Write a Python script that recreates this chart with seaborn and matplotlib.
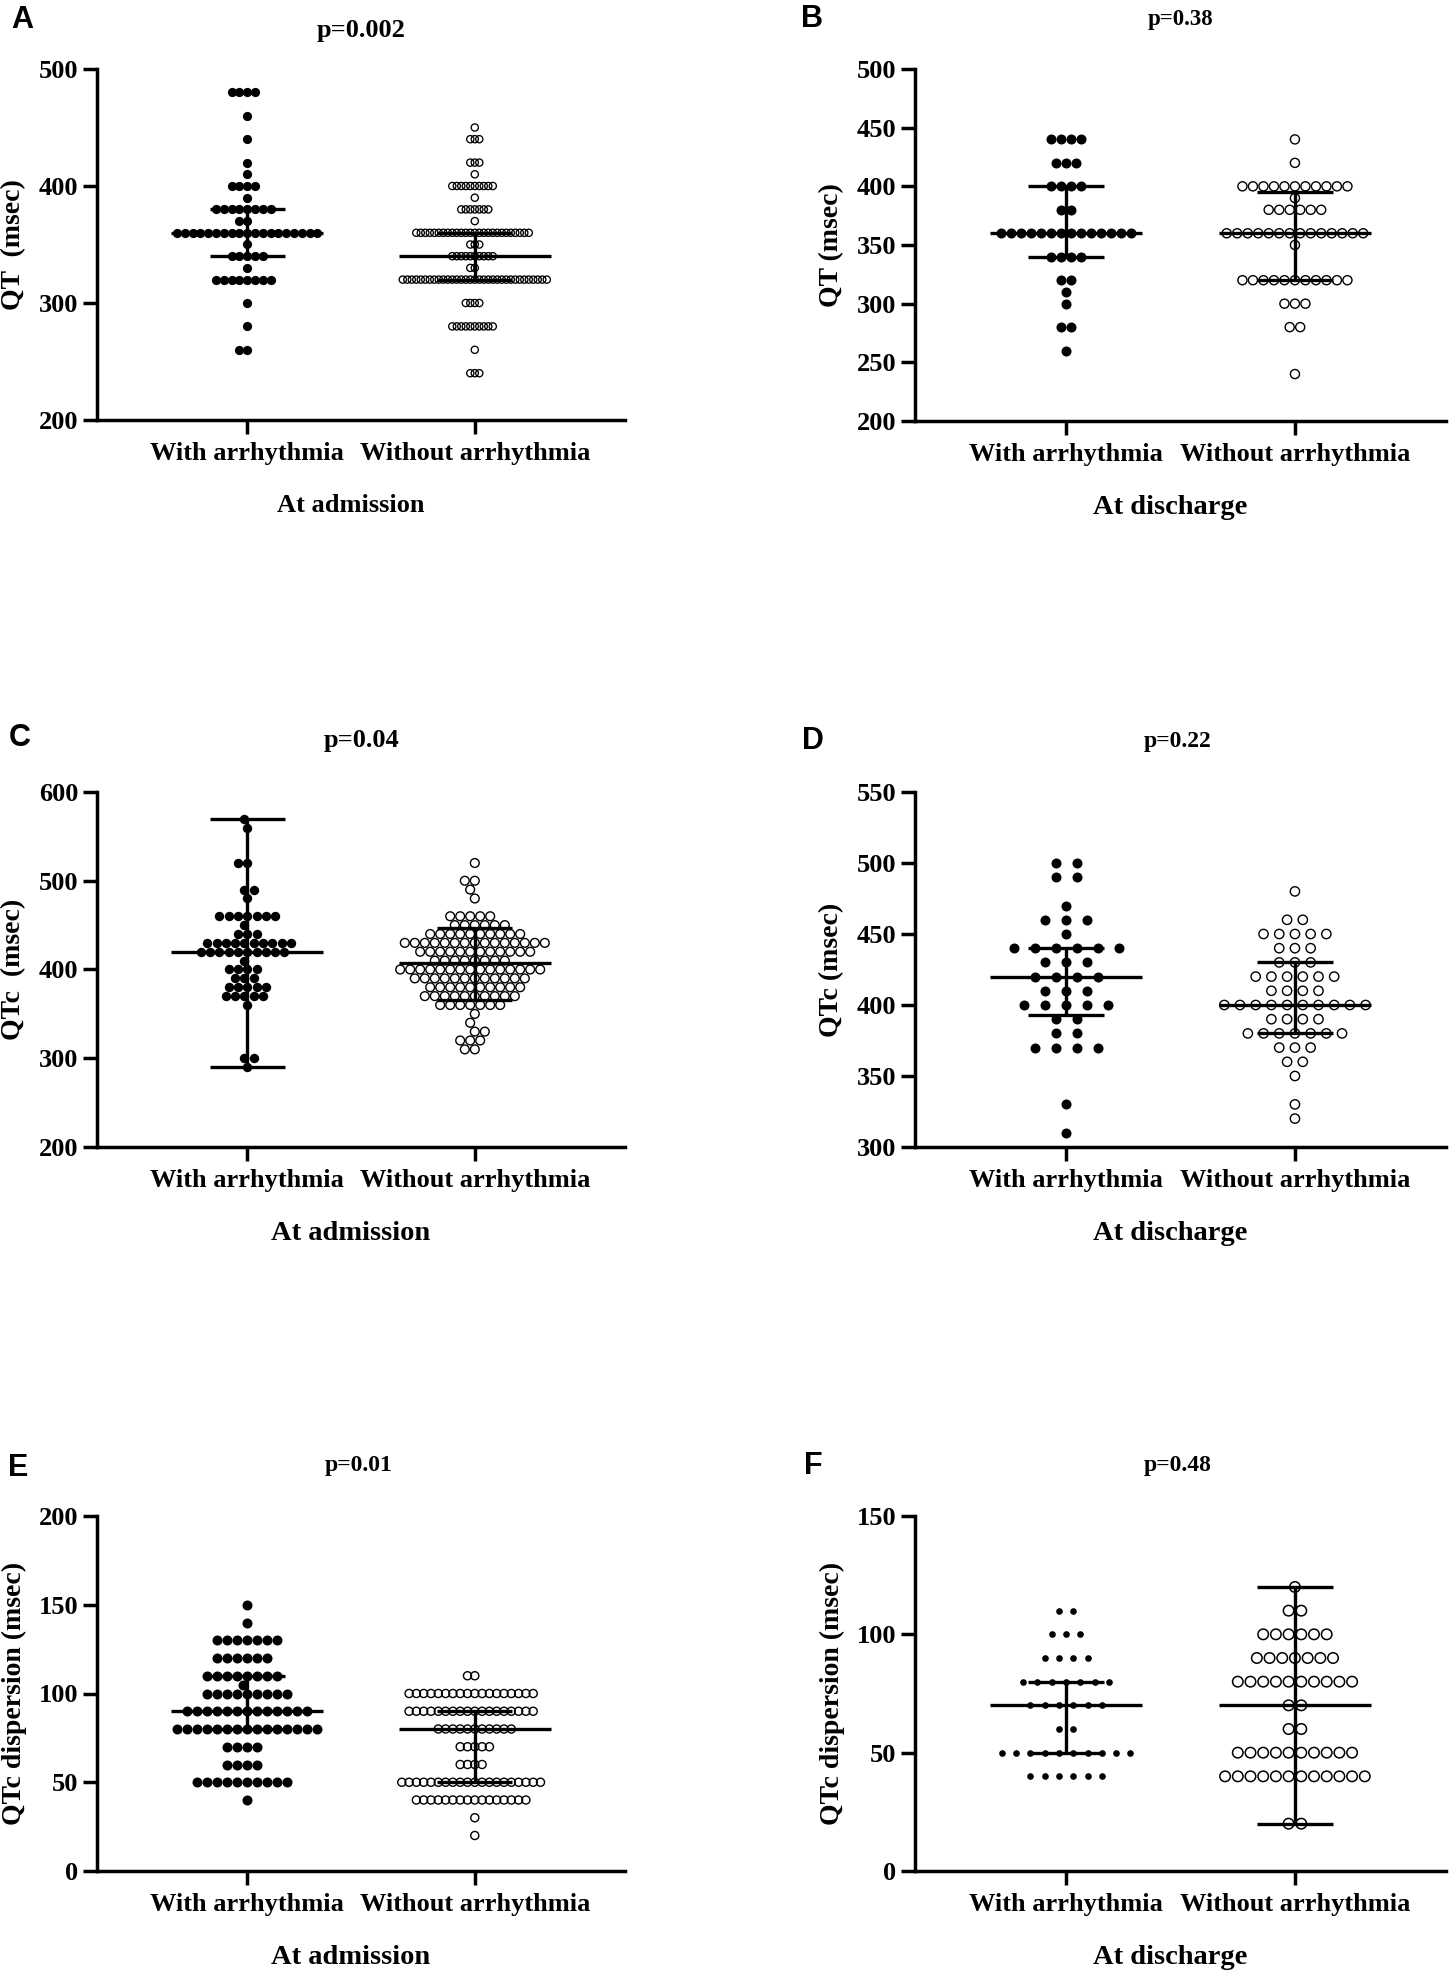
import numpy as np
import pandas as pd
import matplotlib
matplotlib.use("Agg")
import matplotlib.pyplot as plt
import seaborn as sns

# ---------------- data ----------------
categories = ["With arrhythmia", "Without arrhythmia"]

# A: QT at admission
A_with_vals = [480, 460, 440, 420, 410, 400, 390, 380, 370, 360, 350, 340, 330, 320, 300, 280, 260]
A_with_counts = [4, 1, 1, 1, 1, 4, 1, 8, 2, 19, 1, 5, 1, 8, 1, 1, 2]
A_without_vals = [450, 440, 420, 410, 400, 390, 380, 370, 360, 350, 340, 330, 320, 300, 280, 260, 240]
A_without_counts = [1, 3, 3, 1, 10, 1, 7, 1, 26, 3, 10, 2, 33, 4, 10, 1, 3]
A_summary = [[360, 340, 380], [340, 320, 360]]          # centre, low, high

# B: QT at discharge
B_with_vals = [440, 420, 400, 380, 360, 340, 320, 310, 300, 280, 260]
B_with_counts = [4, 3, 4, 2, 14, 4, 2, 1, 1, 2, 1]
B_without_vals = [440, 420, 400, 390, 380, 360, 350, 320, 300, 280, 240]
B_without_counts = [1, 1, 11, 1, 6, 14, 1, 11, 3, 2, 1]
B_summary = [[360, 340, 400], [360, 320, 395]]

# C: QTc at admission
C_with_vals = [570, 560, 520, 490, 480, 460, 450, 440, 430, 420, 410, 400, 390, 380, 370, 360, 300, 290]
C_with_counts = [1, 1, 2, 2, 1, 7, 1, 3, 10, 10, 1, 4, 3, 5, 5, 1, 2, 1]
C_without_vals = [520, 500, 490, 480, 460, 450, 440, 430, 420, 410, 400, 390, 380, 370, 360, 350, 340, 330, 320, 310]
C_without_counts = [1, 2, 1, 1, 5, 6, 10, 15, 12, 8, 15, 12, 10, 10, 7, 1, 1, 2, 3, 2]
C_summary = [[420, 290, 570], [407, 366, 447]]

# D: QTc at discharge
D_with_vals = [500, 490, 470, 460, 450, 440, 430, 420, 410, 400, 390, 380, 370, 330, 310]
D_with_counts = [2, 2, 1, 3, 1, 6, 3, 4, 3, 5, 2, 2, 4, 1, 1]
D_without_vals = [480, 460, 450, 440, 430, 420, 410, 400, 390, 380, 370, 360, 350, 330, 320]
D_without_counts = [1, 2, 5, 3, 3, 6, 4, 10, 4, 7, 3, 2, 1, 1, 1]
D_summary = [[420, 393, 440], [400, 380, 430]]

# E: QTc dispersion at admission
E_with_vals = [150, 140, 130, 120, 110, 105, 100, 90, 80, 70, 60, 50, 40]
E_with_counts = [1, 1, 7, 6, 8, 1, 9, 13, 15, 4, 4, 10, 1]
E_without_vals = [110, 100, 90, 80, 70, 60, 50, 40, 30, 20]
E_without_counts = [2, 18, 18, 11, 5, 4, 20, 16, 1, 1]
E_summary = [[90, 80, 110], [80, 50, 90]]

# F: QTc dispersion at discharge
F_with_vals = [110, 100, 90, 80, 70, 60, 50, 40]
F_with_counts = [2, 3, 4, 7, 6, 2, 10, 6]
F_without_vals = [120, 110, 100, 90, 80, 70, 60, 50, 40, 20]
F_without_counts = [1, 2, 6, 7, 10, 2, 2, 10, 12, 2]
F_summary = [[70, 50, 80], [70, 20, 120]]

p_values = ["p=0.002", "p=0.38", "p=0.04", "p=0.22", "p=0.01", "p=0.48"]
panel_letters = ["A", "B", "C", "D", "E", "F"]
y_labels = ["QT  (msec)", "QT (msec)", "QTc  (msec)", "QTc (msec)",
            "QTc dispersion (msec)", "QTc dispersion (msec)"]
x_labels = ["At admission", "At discharge", "At admission", "At discharge",
            "At admission", "At discharge"]
y_ranges = [(200, 500, 100), (200, 500, 50), (200, 600, 100),
            (300, 550, 50), (0, 200, 50), (0, 150, 50)]

groups = {
    "A": [(A_with_vals, A_with_counts), (A_without_vals, A_without_counts)],
    "B": [(B_with_vals, B_with_counts), (B_without_vals, B_without_counts)],
    "C": [(C_with_vals, C_with_counts), (C_without_vals, C_without_counts)],
    "D": [(D_with_vals, D_with_counts), (D_without_vals, D_without_counts)],
    "E": [(E_with_vals, E_with_counts), (E_without_vals, E_without_counts)],
    "F": [(F_with_vals, F_with_counts), (F_without_vals, F_without_counts)],
}
summaries = {"A": A_summary, "B": B_summary, "C": C_summary,
             "D": D_summary, "E": E_summary, "F": F_summary}

# ---------------- styling / layout ----------------
W, H, DPI = 1450, 1977, 100
sns.set_theme(style="ticks")
plt.rcParams["font.family"] = ["Liberation Serif", "DejaVu Serif"]
plt.rcParams["font.weight"] = "bold"
plt.rcParams["axes.labelweight"] = "bold"

# marker style per panel: (mode, [(filled, s, lw, spacing_px) for each group])
marker_style = {
    "A": ("swarm", [(True, 44, 0, 7.8), (False, 27, 0.95, 4.5)]),
    "B": ("grid", [(True, 52, 0, 10.0), (False, 43, 1.0, 10.5)]),
    "C": ("swarm", [(True, 46, 0, 9.3), (False, 40, 1.0, 10.0)]),
    "D": ("grid", [(True, 52, 0, 21.0), (False, 45, 1.0, 15.7)]),
    "E": ("swarm", [(True, 52, 0, 10.0), (False, 34, 1.0, 7.3)]),
    "F": ("grid", [(True, 23, 0, 14.3), (False, 57, 1.1, 12.7)]),
}

# axes rectangles in pixels: left, top, width, height
axes_px = {
    "A": (97, 69, 528, 351), "B": (915, 69, 531, 352),
    "C": (97, 792, 528, 355), "D": (915, 792, 531, 355),
    "E": (97, 1516, 528, 355), "F": (915, 1516, 531, 355),
}
title_px = {"A": (361, 30, 19), "B": (1180, 20, 16.5), "C": (362, 740, 19),
            "D": (1178, 742, 17), "E": (359, 1466, 17), "F": (1178, 1466, 17)}
letter_px = {"A": (22, 20), "B": (812, 19), "C": (20, 738),
             "D": (813, 741), "E": (18, 1468), "F": (813, 1466)}
xlabel_size = {"A": 19, "B": 20.5, "C": 20.5, "D": 20.5, "E": 20.5, "F": 20.5}

fig = plt.figure(figsize=(W / DPI, H / DPI), dpi=DPI)


def layout_offsets(ax, cat, vals, spacing_px, mode):
    vals = np.asarray(vals, float)
    pts = ax.transData.transform(np.column_stack([np.full(len(vals), float(cat)), vals]))
    y = pts[:, 1]
    xs = np.zeros(len(vals))
    if mode == "grid":
        for v in np.unique(vals):
            idx = np.where(vals == v)[0]
            k = len(idx)
            xs[idx] = (np.arange(k) - (k - 1) / 2.0) * spacing_px
    else:
        d = spacing_px
        order = np.argsort(y, kind="stable")
        px_list, py_list = [], []
        for i in order:
            yi = y[i]
            if px_list:
                pxa, pya = np.array(px_list), np.array(py_list)
                near = np.abs(pya - yi) < d
                nx, ny = pxa[near], pya[near]
            else:
                nx, ny = np.array([]), np.array([])
            dx = np.sqrt(np.maximum(d * d - (ny - yi) ** 2, 0))
            cands = np.concatenate([[0.0], nx - dx, nx + dx])
            cands = cands[np.lexsort((cands, np.abs(cands)))]
            chosen = 0.0
            for c in cands:
                if len(nx) == 0 or np.all((c - nx) ** 2 + (ny - yi) ** 2 >= d * d - 1e-6):
                    chosen = c
                    break
            xs[i] = chosen
            px_list.append(chosen)
            py_list.append(yi)
    unit = ax.transData.transform((1, 0))[0] - ax.transData.transform((0, 0))[0]
    return cat + xs / unit


for k, key in enumerate(panel_letters):
    l, t, w, h = axes_px[key]
    ax = fig.add_axes([l / W, 1 - (t + h) / H, w / W, h / H])
    y0, y1, ystep = y_ranges[k]
    ax.set_xlim(-0.66, 1.66)
    ax.set_ylim(y0, y1)

    mode, gstyles = marker_style[key]
    for gi, (vals, counts) in enumerate(groups[key]):
        data = np.repeat(np.asarray(vals, float), counts)
        filled, s, lw, sp = gstyles[gi]
        xs = layout_offsets(ax, gi, data, sp, mode)
        df = pd.DataFrame({"x": xs, "y": data})
        sns.scatterplot(data=df, x="x", y="y", ax=ax, s=s, color="black",
                        linewidth=0, legend=False, zorder=3, clip_on=False)
        coll = ax.collections[-1]
        if not filled:
            coll.set_facecolor("none")
            coll.set_edgecolor("black")
            coll.set_linewidth(lw)

    for gi, (c, lo, hi) in enumerate(summaries[key]):
        ax.hlines(c, gi - 0.333, gi + 0.333, color="black", lw=2.4, zorder=4)
        ax.hlines([lo, hi], gi - 0.165, gi + 0.165, color="black", lw=2.4, zorder=4)
        ax.vlines(gi, lo, hi, color="black", lw=2.4, zorder=4)

    ax.set_xlim(-0.66, 1.66)
    ax.set_ylim(y0, y1)
    ax.set_xticks([0, 1])
    ax.set_xticklabels(categories)
    ax.set_yticks(np.arange(y0, y1 + 1, ystep))
    for side in ["top", "right"]:
        ax.spines[side].set_visible(False)
    for side in ["left", "bottom"]:
        ax.spines[side].set_linewidth(2.5)
        ax.spines[side].set_color("black")
    ax.tick_params(axis="both", direction="out", length=10, width=2.5,
                   color="black", labelsize=19, labelcolor="black")
    ax.tick_params(axis="x", pad=6)
    ax.tick_params(axis="y", pad=3.5)
    ax.grid(False)
    ax.set_facecolor("none")

    ax.set_ylabel(y_labels[k], fontsize=20, fontweight="bold", color="black")
    ax.yaxis.set_label_coords(-83 / w, 0.5)
    ax.yaxis.label.set_va("center")
    ax.set_xlabel(x_labels[k], fontsize=xlabel_size[key], fontweight="bold", color="black")
    ax.xaxis.set_label_coords(0.48, -86 / h)
    ax.xaxis.label.set_va("center")

    tx, ty, ts = title_px[key]
    fig.text(tx / W, 1 - ty / H, p_values[k], ha="center", va="center",
             fontsize=ts, fontweight="bold", color="black")
    lx, ly = letter_px[key]
    fig.text(lx / W, 1 - ly / H, key, ha="center", va="center", fontsize=22,
             fontweight="bold", color="black", family=["Liberation Sans", "DejaVu Sans"])

fig.savefig("out.png", dpi=DPI, facecolor="white")
